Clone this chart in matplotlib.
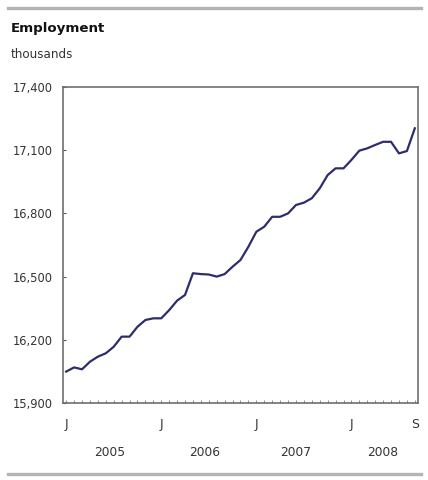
import matplotlib
matplotlib.use('Agg')
from matplotlib import pyplot as plt
from matplotlib.lines import Line2D
import numpy as np

plt.rcParams['font.family'] = ['DejaVu Sans']

# monthly employment, thousands, Jan 2005 .. Sep 2008
employment = [
    16049, 16069, 16060, 16096, 16120, 16136, 16167, 16215, 16215, 16262, 16294, 16302,
    16302, 16341, 16386, 16413, 16516, 16512, 16510, 16500, 16512, 16547, 16579, 16642,
    16713, 16737, 16784, 16784, 16800, 16840, 16851, 16872, 16919, 16982, 17014, 17014,
    17054, 17098, 17109, 17125, 17140, 17140, 17085, 17096, 17204,
]
month_labels = ['J', 'J', 'J', 'J', 'S']
month_label_idx = [0, 12, 24, 36, 44]
years = ['2005', '2006', '2007', '2008']
year_centers = [5.5, 17.5, 29, 40]
yticks = [15900, 16200, 16500, 16800, 17100, 17400]

x = np.arange(len(employment))

fig = plt.figure(figsize=(4.28, 4.8), dpi=100)
ax = fig.add_axes([0.1472, 0.1604, 0.8294, 0.6583])

ax.plot(x, employment, color='#2e2c6e', lw=1.6)

ax.set_xlim(-0.4, len(employment) - 0.6)
ax.set_ylim(15900, 17400)

ax.set_yticks(yticks)
ax.set_yticklabels([f'{v:,}' for v in yticks], fontsize=8.3, color='#333333')
ax.tick_params(axis='y', direction='in', length=2, width=0.8, color='#555555', pad=7.5)

ax.set_xticks(x, minor=True)
ax.set_xticks(month_label_idx)
ax.set_xticklabels(month_labels, fontsize=9, color='#333333')
ax.tick_params(axis='x', which='both', direction='in', length=2.5, width=0.6,
               color='#777777', pad=11)

for s in ax.spines.values():
    s.set_color('#6e6e6e')
    s.set_linewidth(1.2)

for yr, c in zip(years, year_centers):
    ax.text(c, -0.158, yr, transform=ax.get_xaxis_transform(), ha='center', va='center',
            fontsize=8.8, color='#333333')

fig.text(0.026, 0.941, 'Employment', fontsize=9.6, fontweight='bold', color='#111111',
         va='center')
fig.text(0.026, 0.886, 'thousands', fontsize=8.6, color='#333333', va='center')

fig.add_artist(Line2D([0.019, 0.984], [0.984, 0.984], color='#b4b4b4', lw=2.4))
fig.add_artist(Line2D([0.019, 0.984], [0.012, 0.012], color='#b4b4b4', lw=2.4))

fig.savefig('out.png', dpi=100)
